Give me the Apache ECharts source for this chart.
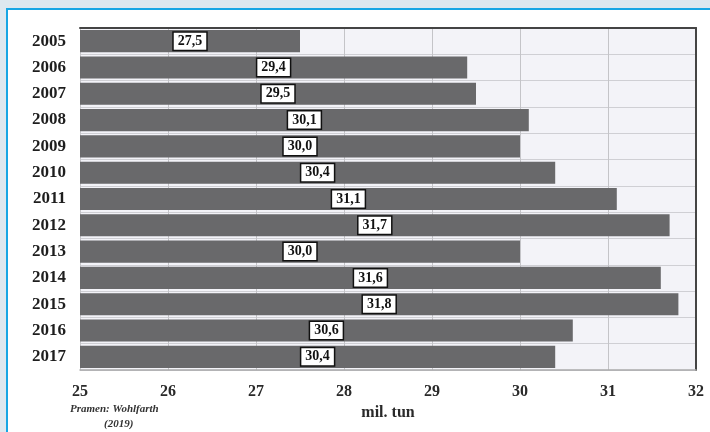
<!DOCTYPE html>
<html><head><meta charset="utf-8">
<script src="https://cdn.jsdelivr.net/npm/echarts@6/dist/echarts.min.js"></script>
<style>
html,body{margin:0;padding:0;background:#dde8ef;}
#frame{position:absolute;left:6px;top:8px;width:704px;height:424px;background:#fff;border-left:2px solid #17a6e4;border-top:2px solid #17a6e4;}
#c{position:absolute;left:0;top:0;width:710px;height:432px;}
</style></head>
<body><div id="frame"></div><div id="c"></div>
<script>
const years = ['2005','2006','2007','2008','2009','2010','2011','2012','2013','2014','2015','2016','2017'];
const values = [27.5,29.4,29.5,30.1,30.0,30.4,31.1,31.7,30.0,31.6,31.8,30.6,30.4];
const xTicks = [25,26,27,28,29,30,31,32];
const axisName = 'mil. tun';
const sourceLines = ['Pramen: Wohlfarth','(2019)'];

const serif = '"Liberation Serif","DejaVu Serif",serif';
const chart = echarts.init(document.getElementById('c'), null, {renderer:'canvas'});
chart.setOption({
  animation:false,
  backgroundColor:'transparent',
  grid:{left:80,right:14,top:28,bottom:62,show:true,backgroundColor:'#f3f3f8',borderWidth:0},
  xAxis:[{
    type:'value',min:xTicks[0],max:xTicks[xTicks.length-1],interval:1,
    axisLine:{show:true,lineStyle:{color:'#aaaaaa',width:1.5}},
    axisTick:{show:false},
    axisLabel:{margin:14,color:'#2a2a2a',fontFamily:serif,fontWeight:'bold',fontSize:16},
    splitLine:{show:true,lineStyle:{color:'#c4c4c8',width:1}},
    name:axisName,nameLocation:'middle',nameGap:33,
    nameTextStyle:{color:'#2a2a2a',fontFamily:serif,fontWeight:'bold',fontSize:16}
  },{
    type:'value',position:'top',min:xTicks[0],max:xTicks[xTicks.length-1],
    axisLine:{show:true,lineStyle:{color:'#444',width:2}},
    axisTick:{show:false},axisLabel:{show:false},splitLine:{show:false}
  }],
  yAxis:[{
    type:'category',data:years,inverse:true,
    axisLine:{show:false},axisTick:{show:false},
    axisLabel:{margin:14,color:'#1e1e1e',fontFamily:serif,fontWeight:'bold',fontSize:17},
    splitLine:{show:true,lineStyle:{color:'#cfcfd4',width:1}}
  },{
    type:'category',data:years,inverse:true,position:'right',
    axisLine:{show:true,lineStyle:{color:'#444',width:2}},
    axisTick:{show:false},axisLabel:{show:false},splitLine:{show:false}
  }],
  series:[{
    type:'bar',data:values,barCategoryGap:'16%',
    itemStyle:{color:'#69696b'},
    label:{show:true,position:'inside',
      formatter:p=>p.value.toFixed(1).replace('.',','),
      color:'#111',fontFamily:serif,fontWeight:'bold',fontSize:14,
      backgroundColor:'#fff',borderColor:'#111',borderWidth:1.5,padding:[2,4,1,4]}
  }],
  graphic:[
    {type:'text',left:70,top:404,style:{text:sourceLines[0],fill:'#333',font:'italic bold 11px '+serif}},
    {type:'text',left:104,top:419,style:{text:sourceLines[1],fill:'#333',font:'italic bold 11px '+serif}}
  ]
});
</script></body></html>
